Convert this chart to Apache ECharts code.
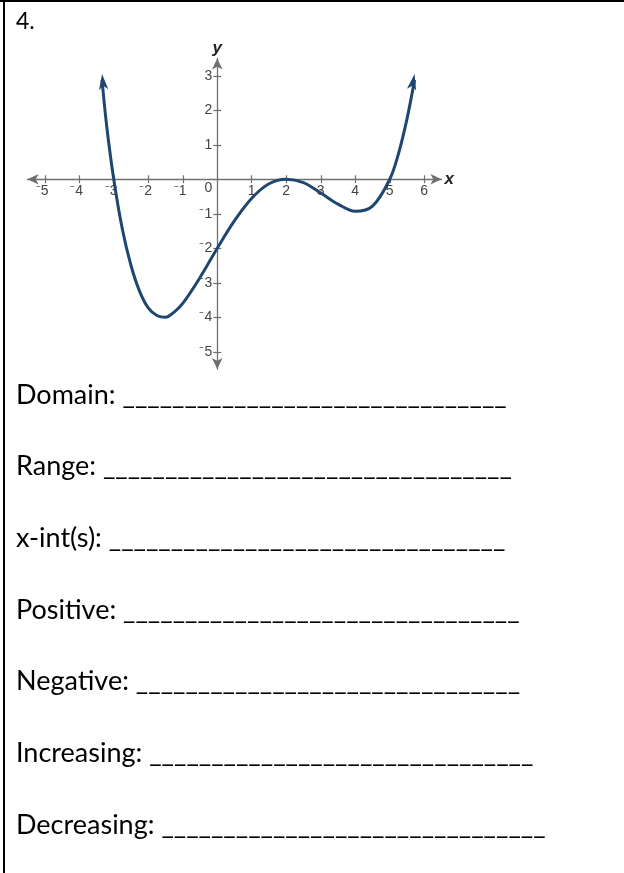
<!DOCTYPE html>
<html>
<head>
<meta charset="utf-8">
<script src="https://cdn.jsdelivr.net/npm/echarts@6/dist/echarts.min.js"></script>
<style>
    body { margin: 0; background: #fff; }
    #main { position: absolute; left: 0; top: 0; width: 624px; height: 873px; }
    #topLine { position: absolute; left: 0; top: 0; width: 624px; height: 2px; background: #000; }
    #leftLine { position: absolute; left: 3px; top: 0; width: 2px; height: 873px; background: #000; }
</style>
</head>
<body>
<div id="main"></div>
<div id="topLine"></div>
<div id="leftLine"></div>
<script>
// 曲线上读出的点
var curveX = [-3.34, -3.2, -3, -2.75, -2.5, -2.25, -2, -1.75, -1.5, -1.25, -1, -0.5, 0, 0.5, 1, 1.5, 2, 2.5, 3, 3.5, 4, 4.5, 5, 5.25, 5.5, 5.72];
var curveY = [2.88, 1.5, 0, -1.45, -2.5, -3.25, -3.73, -3.95, -4.0, -3.85, -3.6, -2.85, -2, -1.2, -0.55, -0.13, 0, -0.1, -0.4, -0.72, -0.93, -0.78, 0, 0.73, 1.75, 2.88];
// 刻度
var xTicks = [-5, -4, -3, -2, -1, 1, 2, 3, 4, 5, 6];
var yTicks = [-5, -4, -3, -2, -1, 1, 2, 3];
// 题目文字
var questions = ['Domain:', 'Range:', 'x-int(s):', 'Positive:', 'Negative:', 'Increasing:', 'Decreasing:'];
var blankCounts = [31, 33, 32, 32, 31, 31, 31];

var myChart = echarts.init(document.getElementById('main'));

function tickText(v) {
    if (v < 0) {
        return '\u207b' + (-v) + '{h|\u207b}';
    }
    return '' + v;
}

function build() {
    var lineColor = '#1f4670';
    var axisColor = '#6f6f6f';
    var labelFont = 'Liberation Sans';
    // 坐标轴移到原点
    var shift = -189.75;

    var data = [];
    for (var i = 0; i < curveX.length; i++) {
        data.push([curveX[i], curveY[i]]);
    }
    // 两端画箭头
    data[0] = {
        value: data[0], symbol: 'arrow', symbolSize: [7, 16], symbolRotate: 6,
        symbolOffset: [0, -6], itemStyle: { color: lineColor }
    };
    var last = data.length - 1;
    data[last] = {
        value: data[last], symbol: 'arrow', symbolSize: [7, 16], symbolRotate: -11,
        symbolOffset: [0, -6], itemStyle: { color: lineColor }
    };

    var graphic = [{
        type: 'text', x: 16, y: 22,
        style: { text: '4.', font: '23px Lato', fill: '#000', verticalAlign: 'middle' }
    }];
    for (var j = 0; j < questions.length; j++) {
        graphic.push({
            type: 'text', x: 16, y: 395 + j * 71.67,
            style: {
                text: questions[j] + ' ' + new Array(blankCounts[j] + 1).join('_'),
                font: '27px Lato', fill: '#000', verticalAlign: 'middle'
            }
        });
    }

    var nameStyle = { fontFamily: labelFont, fontSize: 17, fontStyle: 'italic', fontWeight: 'bold', color: '#222' };

    var option = {
        animation: false,
        grid: { left: 27.5, top: 58.5, width: 414, height: 310.5 },
        xAxis: [{
            type: 'value', min: -5.5, max: 6.5, position: 'bottom', offset: shift,
            name: 'x', nameLocation: 'end', nameGap: 3, nameTextStyle: nameStyle,
            axisLine: { onZero: false, symbol: ['arrow', 'arrow'], symbolSize: [8, 11], lineStyle: { color: axisColor, width: 1.3 } },
            axisTick: { show: true, length: 4, customValues: xTicks, lineStyle: { color: axisColor, width: 1.2 } },
            axisLabel: {
                customValues: xTicks, margin: 5, formatter: tickText,
                fontFamily: labelFont, fontSize: 14, color: '#444',
                rich: { h: { color: 'rgba(0,0,0,0)', fontSize: 14, fontFamily: labelFont } }
            },
            splitLine: { show: false }
        }, {
            type: 'value', min: -5.5, max: 6.5, position: 'bottom', offset: shift,
            axisLine: { show: false, onZero: false },
            axisTick: { show: true, inside: true, length: 4, customValues: xTicks, lineStyle: { color: axisColor, width: 1.2 } },
            axisLabel: { show: false },
            splitLine: { show: false }
        }],
        yAxis: [{
            type: 'value', min: -5.5, max: 3.5, position: 'left', offset: shift,
            name: 'y', nameLocation: 'end', nameGap: 2, nameTextStyle: nameStyle,
            axisLine: { onZero: false, symbol: ['arrow', 'arrow'], symbolSize: [8, 11], lineStyle: { color: axisColor, width: 1.3 } },
            axisTick: { show: true, length: 4, customValues: yTicks, lineStyle: { color: axisColor, width: 1.2 } },
            axisLabel: {
                customValues: yTicks.concat([0]), margin: 5,
                formatter: function (v) {
                    if (v === 0) {
                        return '{z|0}';
                    }
                    return v < 0 ? '\u207b' + (-v) : '' + v;
                },
                fontFamily: labelFont, fontSize: 14, color: '#444',
                rich: { z: { fontSize: 14, fontFamily: labelFont, color: '#444', padding: [18, 0, 0, 0] } }
            },
            splitLine: { show: false }
        }, {
            type: 'value', min: -5.5, max: 3.5, position: 'left', offset: shift,
            axisLine: { show: false, onZero: false },
            axisTick: { show: true, inside: true, length: 4, customValues: yTicks, lineStyle: { color: axisColor, width: 1.2 } },
            axisLabel: { show: false },
            splitLine: { show: false }
        }],
        series: [{
            type: 'line',
            xAxisIndex: 0,
            yAxisIndex: 0,
            smooth: 0.35,
            symbol: 'none',
            showSymbol: true,
            data: data,
            lineStyle: { color: lineColor, width: 3 },
            z: 5
        }],
        graphic: graphic
    };

    myChart.setOption(option);
}

build();
</script>
</body>
</html>
